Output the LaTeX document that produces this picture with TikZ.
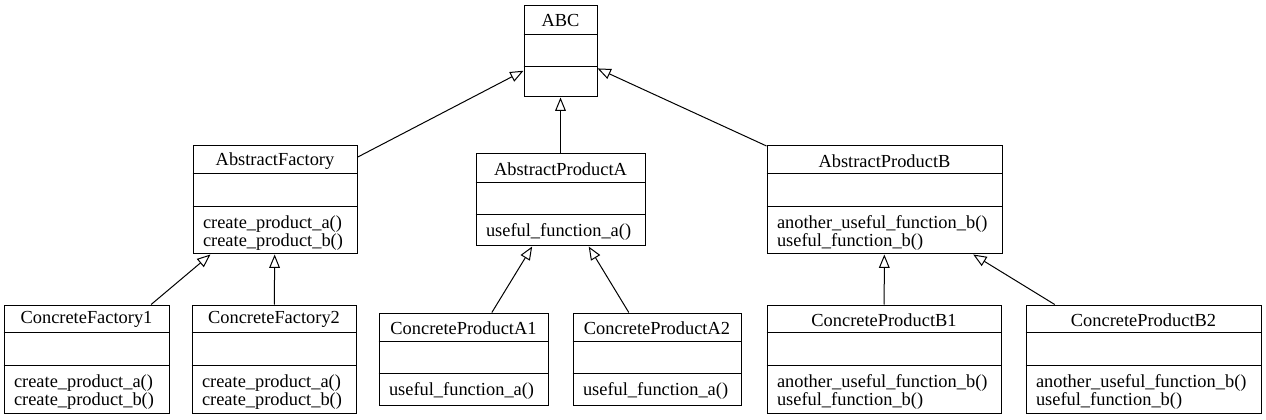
\documentclass[tikz,border=0pt]{standalone}
\usepackage{fontspec}
\setmainfont{Liberation Serif}
\usetikzlibrary{arrows.meta}

\begin{document}
\begin{tikzpicture}[x=0.75pt,y=-0.75pt,line width=0.75pt,
    font=\fontsize{13.8pt}{13.5pt}\selectfont,
    cls/.style={draw,rectangle,inner sep=0pt},
    title/.style={inner sep=0pt},
    ops/.style={anchor=west,align=left,inner sep=0pt},
    isa/.style={-{Triangle[open,length=10pt,width=8pt]}}]
  \useasboundingbox (0,0) rectangle (1266,420);

  % top class
  \node[cls,minimum width=54.75pt,minimum height=68.25pt] (abc) at (560.5,51.5) {};
  \node[title] (abc-t) at ([yshift=-11.5pt]abc.north) {ABC};
  \draw ([yshift=-21.5pt]abc.north west) -- ([yshift=-21.5pt]abc.north east);
  \draw ([yshift=-46pt]abc.north west) -- ([yshift=-46pt]abc.north east);

  % middle row
  \node[cls,minimum width=123pt,minimum height=81pt] (af) at (275,200) {};
  \node[title] (af-t) at ([yshift=-11.5pt]af.north) {AbstractFactory};
  \draw ([yshift=-21pt]af.north west) -- ([yshift=-21pt]af.north east);
  \draw ([yshift=-45.75pt]af.north west) -- ([yshift=-45.75pt]af.north east);
  \node[ops] (af-o) at ([xshift=7.5pt,yshift=16pt]af.south west)
    {create\_product\_a()\\create\_product\_b()};

  \node[cls,minimum width=126.75pt,minimum height=69pt] (apa) at (560.5,200) {};
  \node[title] (apa-t) at ([yshift=-11.5pt]apa.north) {AbstractProductA};
  \draw ([yshift=-21.5pt]apa.north west) -- ([yshift=-21.5pt]apa.north east);
  \draw ([yshift=-46pt]apa.north west) -- ([yshift=-46pt]apa.north east);
  \node[ops] (apa-o) at ([xshift=7.5pt,yshift=11pt]apa.south west)
    {useful\_function\_a()};

  \node[cls,minimum width=176.25pt,minimum height=81pt] (apb) at (884.5,200) {};
  \node[title] (apb-t) at ([yshift=-11.5pt]apb.north) {AbstractProductB};
  \draw ([yshift=-21pt]apb.north west) -- ([yshift=-21pt]apb.north east);
  \draw ([yshift=-45.75pt]apb.north west) -- ([yshift=-45.75pt]apb.north east);
  \node[ops] (apb-o) at ([xshift=7.5pt,yshift=16pt]apb.south west)
    {another\_useful\_function\_b()\\useful\_function\_b()};

  % bottom row
  \node[cls,minimum width=123.75pt,minimum height=81pt] (cf1) at (86.5,359) {};
  \node[title] (cf1-t) at ([yshift=-11.5pt]cf1.north) {ConcreteFactory1};
  \draw ([yshift=-21pt]cf1.north west) -- ([yshift=-21pt]cf1.north east);
  \draw ([yshift=-45.75pt]cf1.north west) -- ([yshift=-45.75pt]cf1.north east);
  \node[ops] (cf1-o) at ([xshift=7.5pt,yshift=16pt]cf1.south west)
    {create\_product\_a()\\create\_product\_b()};

  \node[cls,minimum width=123pt,minimum height=81pt] (cf2) at (274,359) {};
  \node[title] (cf2-t) at ([yshift=-11.5pt]cf2.north) {ConcreteFactory2};
  \draw ([yshift=-21pt]cf2.north west) -- ([yshift=-21pt]cf2.north east);
  \draw ([yshift=-45.75pt]cf2.north west) -- ([yshift=-45.75pt]cf2.north east);
  \node[ops] (cf2-o) at ([xshift=7.5pt,yshift=16pt]cf2.south west)
    {create\_product\_a()\\create\_product\_b()};

  \node[cls,minimum width=126.75pt,minimum height=69pt] (cpa1) at (463.5,359) {};
  \node[title] (cpa1-t) at ([yshift=-11.5pt]cpa1.north) {ConcreteProductA1};
  \draw ([yshift=-21.5pt]cpa1.north west) -- ([yshift=-21.5pt]cpa1.north east);
  \draw ([yshift=-46pt]cpa1.north west) -- ([yshift=-46pt]cpa1.north east);
  \node[ops] (cpa1-o) at ([xshift=7.5pt,yshift=11pt]cpa1.south west)
    {useful\_function\_a()};

  \node[cls,minimum width=126pt,minimum height=69pt] (cpa2) at (657,359) {};
  \node[title] (cpa2-t) at ([yshift=-11.5pt]cpa2.north) {ConcreteProductA2};
  \draw ([yshift=-21.5pt]cpa2.north west) -- ([yshift=-21.5pt]cpa2.north east);
  \draw ([yshift=-46pt]cpa2.north west) -- ([yshift=-46pt]cpa2.north east);
  \node[ops] (cpa2-o) at ([xshift=7.5pt,yshift=11pt]cpa2.south west)
    {useful\_function\_a()};

  \node[cls,minimum width=175.5pt,minimum height=81pt] (cpb1) at (884,359) {};
  \node[title] (cpb1-t) at ([yshift=-11.5pt]cpb1.north) {ConcreteProductB1};
  \draw ([yshift=-21pt]cpb1.north west) -- ([yshift=-21pt]cpb1.north east);
  \draw ([yshift=-45.75pt]cpb1.north west) -- ([yshift=-45.75pt]cpb1.north east);
  \node[ops] (cpb1-o) at ([xshift=7.5pt,yshift=16pt]cpb1.south west)
    {another\_useful\_function\_b()\\useful\_function\_b()};

  \node[cls,minimum width=176.25pt,minimum height=81pt] (cpb2) at (1143.5,359) {};
  \node[title] (cpb2-t) at ([yshift=-11.5pt]cpb2.north) {ConcreteProductB2};
  \draw ([yshift=-21pt]cpb2.north west) -- ([yshift=-21pt]cpb2.north east);
  \draw ([yshift=-45.75pt]cpb2.north west) -- ([yshift=-45.75pt]cpb2.north east);
  \node[ops] (cpb2-o) at ([xshift=7.5pt,yshift=16pt]cpb2.south west)
    {another\_useful\_function\_b()\\useful\_function\_b()};

  % inheritance arrows
  \draw[isa] (af) -- (abc);
  \draw[isa] (apa) -- (abc);
  \draw[isa] (apb) -- (abc);
  \draw[isa] (cf1) -- (af);
  \draw[isa] (cf2) -- (af);
  \draw[isa] (cpa1) -- (apa);
  \draw[isa] (cpa2) -- (apa);
  \draw[isa] (cpb1) -- (apb);
  \draw[isa] (cpb2) -- (apb);
\end{tikzpicture}
\end{document}
